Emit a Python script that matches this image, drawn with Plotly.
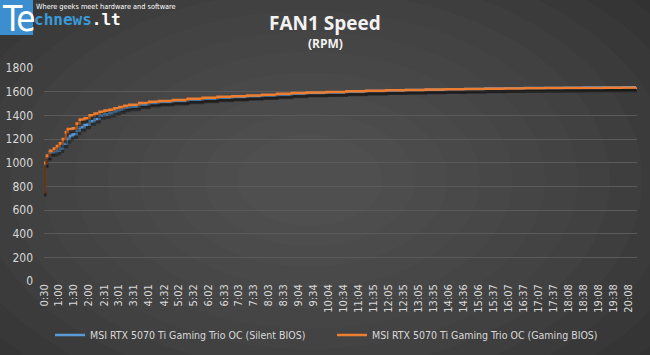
import plotly.graph_objects as go

# ---------------- data ----------------
tick_labels = ["0:30", "1:00", "1:30", "2:00", "2:31", "3:01", "3:31", "4:01", "4:32", "5:02",
               "5:32", "6:02", "6:33", "7:03", "7:33", "8:03", "8:33", "9:04", "9:34", "10:04",
               "10:34", "11:04", "11:35", "12:05", "12:35", "13:05", "13:35", "14:06", "14:36", "15:06",
               "15:37", "16:07", "16:37", "17:07", "17:37", "18:08", "18:38", "19:08", "19:38", "20:08"]

gaming_t = [30, 32, 36, 42, 50, 56, 62, 68, 74, 78, 88, 96, 102, 112, 122, 132, 142, 152, 162, 172,
            182, 192, 202, 222, 242, 262, 290, 320, 350, 380, 410, 440, 470, 500, 530, 560, 600, 640,
            680, 720, 760, 800, 840, 880, 920, 960, 1000, 1040, 1080, 1120, 1160, 1200, 1224]
gaming_rpm = [750, 1000, 1060, 1100, 1120, 1140, 1165, 1200, 1260, 1285, 1290, 1330, 1365, 1375, 1400,
              1415, 1430, 1440, 1448, 1460, 1470, 1482, 1490, 1505, 1515, 1522, 1530, 1540, 1548, 1556,
              1562, 1568, 1575, 1582, 1588, 1592, 1598, 1603, 1608, 1612, 1615, 1618, 1620, 1622, 1625,
              1627, 1628, 1630, 1631, 1632, 1633, 1634, 1635]

silent_t = [30, 32, 36, 42, 50, 56, 62, 68, 76, 82, 88, 96, 102, 112, 122, 132, 142, 152, 162, 172,
            182, 192, 202, 222, 242, 262, 290, 320, 350, 380, 410, 440, 470, 500, 530, 560, 600, 640,
            680, 720, 760, 800, 840, 880, 920, 960, 1000, 1040, 1080, 1120, 1160, 1200, 1224]
silent_rpm = [760, 990, 1050, 1085, 1090, 1100, 1120, 1160, 1200, 1225, 1240, 1270, 1300, 1320, 1350,
              1370, 1400, 1410, 1420, 1435, 1450, 1465, 1472, 1490, 1505, 1512, 1522, 1532, 1540, 1548,
              1555, 1562, 1568, 1575, 1582, 1588, 1594, 1600, 1605, 1610, 1614, 1617, 1620, 1623, 1626,
              1628, 1630, 1632, 1633, 1635, 1636, 1637, 1638]

series_names = ["MSI RTX 5070 Ti Gaming Trio OC (Silent BIOS)",
                "MSI RTX 5070 Ti Gaming Trio OC (Gaming BIOS)"]

def to_sec(s):
    m, sec = s.split(":")
    return int(m) * 60 + int(sec)

tick_vals = [to_sec(s) for s in tick_labels]

# ---------------- layout geometry ----------------
W, H = 650, 355
L, R, T, B = 44, 13, 68, 74
PW, PH = W - L - R, H - T - B
Y_MAX = 1800

def px(X):
    return (X - L) / PW

def py(Y):
    return (H - B - Y) / PH

FONT = "Liberation Sans Narrow, DejaVu Sans Condensed, Liberation Sans, sans-serif"
TXT = "#d9d9d9"

# shadow offset of 3 px expressed through a second, shifted y axis
shadow_shift = 3 * Y_MAX / PH

fig = go.Figure()
for t, v in ((silent_t, silent_rpm), (gaming_t, gaming_rpm)):
    fig.add_trace(go.Scatter(x=t, y=v, mode="lines", yaxis="y2", showlegend=False,
                             hoverinfo="skip",
                             line=dict(color="rgba(0,0,0,0.35)", width=3, shape="hv")))
fig.add_trace(go.Scatter(x=silent_t, y=silent_rpm, mode="lines", name=series_names[0],
                         line=dict(color="#5b9bd5", width=2.5, shape="hv")))
fig.add_trace(go.Scatter(x=gaming_t, y=gaming_rpm, mode="lines", name=series_names[1],
                         line=dict(color="#ed7d31", width=2.5, shape="hv")))

# background radial gradient approximation
shapes = []
cx, cy = 310, 180
n = 16
for i in range(n):
    f = 1 - i / n
    rx, ry = 40 + 520 * f, 25 + 330 * f
    shapes.append(dict(type="circle", xref="paper", yref="paper", layer="below",
                       x0=px(cx - rx), x1=px(cx + rx), y0=py(cy + ry), y1=py(cy - ry),
                       fillcolor="rgba(255,255,255,0.016)", line=dict(width=0)))
# logo box
shapes.append(dict(type="rect", xref="paper", yref="paper", layer="above",
                   x0=px(0), x1=px(33), y0=py(35), y1=py(0),
                   fillcolor="#3b8fd0", line=dict(width=0)))

annotations = [
    dict(text="<b>FAN1 Speed</b>", x=px(325), y=py(23), xref="paper", yref="paper",
         showarrow=False, font=dict(family="Open Sans, sans-serif", size=19, color="#f2f2f2"),
         xanchor="center", yanchor="middle"),
    dict(text="<b>(RPM)</b>", x=px(325), y=py(44), xref="paper", yref="paper",
         showarrow=False, font=dict(family="Open Sans, sans-serif", size=12, color="#f2f2f2"),
         xanchor="center", yanchor="middle"),
    dict(text="Te", x=px(0), y=py(19), xref="paper", yref="paper", showarrow=False,
         font=dict(family="DejaVu Sans Condensed, Liberation Sans, sans-serif", size=35, color="white"),
         xanchor="left", yanchor="middle"),
    dict(text="<b>chnews<span style='color:white'>.lt</span></b>", x=px(32), y=py(19),
         xref="paper", yref="paper", showarrow=False,
         font=dict(family="DejaVu Sans Mono, monospace", size=16, color="#3a9ad9"),
         xanchor="left", yanchor="middle"),
    dict(text="Where geeks meet hardware and software", x=px(34), y=py(6), xref="paper",
         yref="paper", showarrow=False,
         font=dict(family=FONT, size=7.3, color="white"),
         xanchor="left", yanchor="middle"),
]

fig.update_layout(
    width=W, height=H,
    margin=dict(l=L, r=R, t=T, b=B, autoexpand=False),
    paper_bgcolor="#262626", plot_bgcolor="rgba(0,0,0,0)",
    font=dict(family=FONT, color=TXT, size=11),
    shapes=shapes, annotations=annotations,
    showlegend=True,
    legend=dict(orientation="h", x=px(50), xanchor="left", yref="container",
                y=1 - 335 / H, yanchor="middle",
                font=dict(family=FONT, size=10.5, color=TXT), bgcolor="rgba(0,0,0,0)",
                itemwidth=30, entrywidth=237, entrywidthmode="pixels"),
    xaxis=dict(range=[30, 1226], tickvals=tick_vals, ticktext=tick_labels, tickangle=-90,
               showgrid=False, zeroline=False, showline=False, ticks="", automargin=False,
               tickfont=dict(family=FONT, size=11, color=TXT)),
    yaxis=dict(range=[0, Y_MAX], dtick=200, showgrid=True, gridcolor="#5a5a5a", gridwidth=1,
               zeroline=False, showline=False, ticks="", ticklabelstandoff=10, automargin=False,
               tickfont=dict(family=FONT, size=12, color=TXT)),
    yaxis2=dict(range=[shadow_shift, Y_MAX + shadow_shift], overlaying="y", visible=False),
)

fig.write_html("out.html", config={"displayModeBar": False},
               post_script="document.body.style.margin='0';document.body.style.overflow='hidden';")
